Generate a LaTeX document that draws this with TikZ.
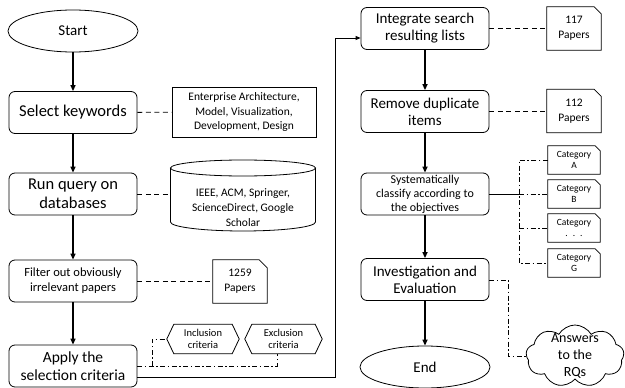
\documentclass[tikz,border=0pt]{standalone}
\usepackage{fontspec}
\setmainfont{Carlito}
\usetikzlibrary{arrows.meta,shapes.geometric,shapes.symbols,calc}
\newcommand\docframe[2]{\draw[line width=0.8pt] (#1.north west) -- ([xshift=-#2]#1.north east) -- ([yshift=-#2]#1.north east) -- (#1.south east) -- (#1.south west) -- cycle;}
\newcommand\hexframe[1]{\draw[line width=0.8pt] (#1.west) -- ([xshift=7pt]#1.north west) -- ([xshift=-7pt]#1.north east) -- (#1.east) -- ([xshift=-7pt]#1.south east) -- ([xshift=7pt]#1.south west) -- cycle;}
\tikzset{
  base/.style={draw, line width=0.8pt, align=center, inner sep=0.5pt},
  proc/.style={base, rounded corners=6pt, minimum width=128pt, minimum height=42pt},
  term/.style={base, ellipse, minimum width=130pt, minimum height=42pt, font=\fontsize{15}{17}\selectfont},
  plain/.style={align=center, inner sep=0pt},
  doc/.style={plain, minimum width=54pt, minimum height=43pt, font=\fontsize{11.5}{15}\selectfont},
  cat/.style={plain, minimum width=52pt, minimum height=28pt, font=\fontsize{9.5}{11.5}\selectfont},
  hexa/.style={plain, minimum height=29pt, font=\fontsize{10.5}{12.5}\selectfont},
  flow/.style={line width=1.8pt, -{Triangle[length=6pt,width=5pt]}},
  link/.style={line width=0.9pt, -{Triangle[length=5pt,width=4pt]}},
  dsh/.style={line width=0.9pt, dash pattern=on 5pt off 3.5pt},
  ddot/.style={line width=0.9pt, dash pattern=on 5pt off 2.5pt on 1.5pt off 2.5pt},
}
\begin{document}
\begin{tikzpicture}[x=1pt,y=-1pt]
\useasboundingbox (0,0) rectangle (625,388);
% left column
\node[term] (start) at (73,31) {Start};
\node[proc, font=\fontsize{16.5}{18}\selectfont] (sel) at (73,112.5) {Select keywords};
\node[base, minimum width=144pt, minimum height=50pt, font=\fontsize{11.5}{14.3}\selectfont] (kw) at (244,112) {Enterprise Architecture,\\Model, Visualization,\\Development, Design};
\node[proc, font=\fontsize{16.5}{19}\selectfont] (run) at (73,194) {Run query on\\databases};
\node[plain, minimum width=145pt, font=\fontsize{11.5}{15}\selectfont] (db) at (243,208) {IEEE, ACM, Springer,\\ScienceDirect, Google\\Scholar};
\draw[line width=0.8pt] (243,168) ellipse [x radius=72.5, y radius=8];
\draw[line width=0.8pt] (170.5,168) -- (170.5,222) .. controls (170.5,227) and (203,231) .. (243,231) .. controls (283,231) and (315.5,227) .. (315.5,222) -- (315.5,168);
\node[proc, font=\fontsize{12.5}{15}\selectfont] (filt) at (73,281) {Filter out obviously\\irrelevant papers};
\node[doc] (p1259) at (240,281.5) {1259\\Papers};
\docframe{p1259}{8pt}
\node[proc, font=\fontsize{15.5}{18.3}\selectfont] (apply) at (73,366) {Apply the\\selection criteria};
\node[hexa, minimum width=72pt] (inc) at (203,339) {Inclusion\\criteria};
\hexframe{inc}
\node[hexa, minimum width=77pt] (exc) at (283.5,339) {Exclusion\\criteria};
\hexframe{exc}
% right column
\node[proc, font=\fontsize{15}{17}\selectfont] (integ) at (425,28.5) {Integrate search\\resulting lists};
\node[doc] (p117) at (574,28.5) {117\\Papers};
\docframe{p117}{7pt}
\node[proc, font=\fontsize{15}{17}\selectfont] (rem) at (425,111.5) {Remove duplicate\\items};
\node[doc] (p112) at (574,111) {112\\Papers};
\docframe{p112}{7pt}
\node[proc, font=\fontsize{12}{14}\selectfont] (syst) at (425,194) {Systematically\\classify according to\\the objectives};
\node[cat] (ca) at (574,160) {Category\\A};
\docframe{ca}{5pt}
\node[cat] (cb) at (574,194) {Category\\B};
\docframe{cb}{5pt}
\node[cat] (cc) at (574,228) {Category\\. \ . \ .};
\docframe{cc}{5pt}
\node[cat] (cg) at (574,263) {Category\\G};
\docframe{cg}{5pt}
\node[proc, font=\fontsize{15}{17}\selectfont] (inv) at (425,279.5) {Investigation and\\Evaluation};
\node[term] (end) at (425,367) {End};
\node[cloud, draw, line width=0.8pt, cloud puffs=9, cloud puff arc=120, aspect=1.6, minimum width=98pt, minimum height=62pt, inner sep=0pt,
  label={[align=center, font=\fontsize{14}{17}\selectfont]center:Answers\\to the\\RQs}] (cloud) at (575,356) {};
% coordinates
\coordinate (hub) at (519,194);
\coordinate (turn) at (335,38);
% flow arrows
\draw[flow] (start) -- (sel);
\draw[flow] (sel) -- (run);
\draw[flow] (run) -- (filt);
\draw[flow] (filt) -- (apply);
\draw[flow] (integ) -- (rem);
\draw[flow] (rem) -- (syst);
\draw[flow] (syst) -- (inv);
\draw[flow] (inv) -- (end);
\draw[link] ([yshift=-11pt]apply.east) -| (turn) -- ([yshift=-9.5pt]integ.west);
% dashed links
\draw[dsh] (sel) -- (kw);
\draw[dsh] (run.east) -- (run.east -| db.west);
\draw[dsh] (filt.east) -- (filt.east -| p1259.west);
\draw[dsh] (integ.east) -- (integ.east -| p117.west);
\draw[dsh] (rem.east) -- (rem.east -| p112.west);
% dash-dot links
\draw[ddot] (apply.east) -- (apply.east -| 277,0) -- (exc.south -| 277,0);
\draw[ddot] (apply.east -| 152,0) -- (inc.west -| 152,0) -- (inc.west);
\draw[line width=0.9pt] (syst.east |- hub) -- (hub);
\draw[ddot] (ca.west) -- (ca.west -| hub) -- (cg.west -| hub) -- (cg.west);
\draw[ddot] (hub) -- (cb.west);
\draw[ddot] (cc.west -| hub) -- (cc.west);
\draw[ddot] ([yshift=-0.5pt]inv.east) -- ++(19,0) |- (cloud.west);
\end{tikzpicture}
\end{document}
